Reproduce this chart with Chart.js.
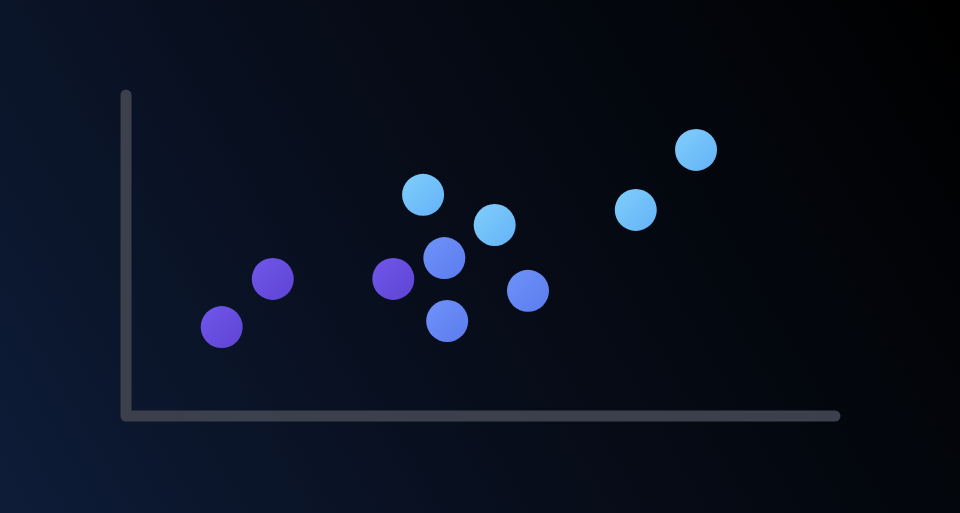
<!DOCTYPE html>
<html>
<head>
<meta charset="utf-8">
<script src="https://cdn.jsdelivr.net/npm/chart.js@4/dist/chart.umd.min.js"></script>
<style>
  html, body { margin: 0; padding: 0; }
  body {
    width: 960px; height: 513px; overflow: hidden;
    background: linear-gradient(60deg, #0e1c38 0%, #070d1a 45%, #000 100%);
  }
  #wrap { width: 960px; height: 513px; }
</style>
</head>
<body>
<div id="wrap"><canvas id="chart"></canvas></div>
<script>
// point values (x, y on a 0-100 scale), grouped by colour
const purpleX = [13.5, 20.7, 37.7];
const purpleY = [27.7, 42.7, 42.7];
const blueX = [44.9, 45.3, 56.7];
const blueY = [49.2, 29.6, 39.0];
const lightX = [41.9, 52.0, 71.9, 80.4];
const lightY = [68.9, 59.5, 64.2, 82.9];

const axisMin = 0;
const axisMax = 100;

function toPoints(xs, ys) {
    return xs.map(function (x, i) { return { x: x, y: ys[i] }; });
}

// soft diagonal gradient inside each circle
function circleFill(c1, c2) {
    return function (context) {
        var el = context.element;
        if (!el || el.x == null || isNaN(el.x)) return c1;
        var ctx = context.chart.ctx;
        var r = 21;
        var g = ctx.createLinearGradient(el.x - r, el.y - r, el.x + r, el.y + r);
        g.addColorStop(0, c1);
        g.addColorStop(1, c2);
        return g;
    };
}

// thick rounded axis lines
const axisLines = {
    id: "axisLines",
    beforeDatasetsDraw: function (chart) {
        var ctx = chart.ctx;
        var a = chart.chartArea;
        ctx.save();
        ctx.strokeStyle = "#3b404c";
        ctx.lineWidth = 11;
        ctx.lineCap = "round";
        ctx.lineJoin = "round";
        ctx.beginPath();
        ctx.moveTo(a.left, a.top);
        ctx.lineTo(a.left, a.bottom);
        ctx.lineTo(a.right, a.bottom);
        ctx.stroke();
        ctx.restore();
    },
};

var ctx = document.getElementById("chart").getContext("2d");
var myChart = new Chart(ctx, {
    type: "scatter",
    data: {
        datasets: [
            {
                data: toPoints(purpleX, purpleY),
                backgroundColor: circleFill("#7158ea", "#5e43d4"),
            },
            {
                data: toPoints(blueX, blueY),
                backgroundColor: circleFill("#6e92f8", "#5c7cef"),
            },
            {
                data: toPoints(lightX, lightY),
                backgroundColor: circleFill("#80cefb", "#64b2f7"),
            },
        ],
    },
    options: {
        responsive: true,
        maintainAspectRatio: false,
        animation: false,
        layout: {
            padding: { left: 126, right: 125, top: 95, bottom: 97 },
        },
        elements: {
            point: { radius: 21, hoverRadius: 21, borderWidth: 0 },
        },
        plugins: {
            legend: { display: false },
            tooltip: { enabled: false },
        },
        scales: {
            x: { display: false, min: axisMin, max: axisMax },
            y: { display: false, min: axisMin, max: axisMax },
        },
    },
    plugins: [axisLines],
});
</script>
</body>
</html>
